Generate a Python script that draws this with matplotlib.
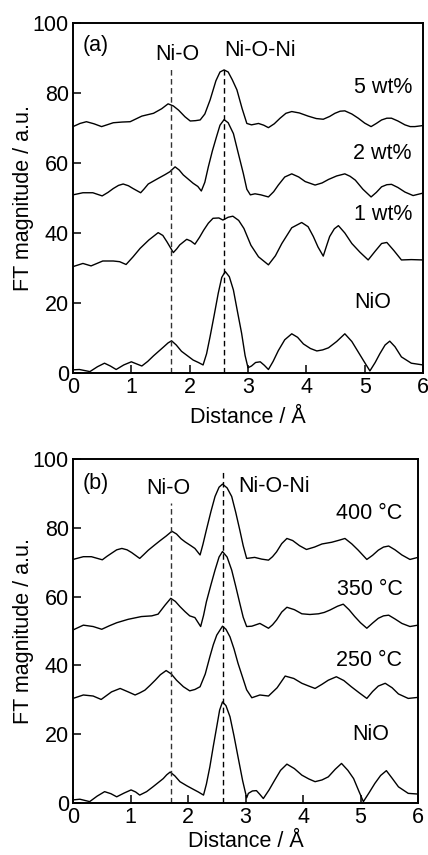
import numpy as np
import matplotlib
matplotlib.use("Agg")
import matplotlib.pyplot as plt

plt.rcParams['font.family'] = ['Liberation Sans', 'DejaVu Sans']

# ---- panel (a): Ni loading ----
a_5wt_x = [0, 0.12, 0.23, 0.36, 0.49, 0.60, 0.69, 0.84, 0.98, 1.08, 1.18, 1.38, 1.52, 1.63, 1.72,
           1.81, 1.92, 2.01, 2.10, 2.18, 2.26, 2.35, 2.45, 2.52, 2.59, 2.66, 2.73, 2.81, 2.90, 2.98,
           3.06, 3.18, 3.27, 3.35, 3.45, 3.55, 3.65, 3.75, 3.88, 4.03, 4.17, 4.29, 4.40, 4.49, 4.58,
           4.66, 4.78, 4.89, 5.00, 5.11, 5.20, 5.29, 5.38, 5.46, 5.57, 5.69, 5.78, 5.86, 6.0]
a_5wt_y = [70.4, 71.3, 71.8, 71.2, 70.4, 71.0, 71.5, 71.7, 71.8, 72.6, 73.4, 74.2, 75.5, 76.9, 76.3,
           75.1, 73.2, 72.0, 72.1, 72.3, 74.0, 78.0, 83.5, 86.0, 86.6, 86.0, 83.8, 80.9, 75.5, 71.3,
           70.9, 71.3, 70.8, 70.1, 71.2, 72.8, 74.2, 74.7, 74.3, 73.4, 72.7, 72.5, 73.3, 74.2, 74.8,
           74.9, 74.0, 72.8, 71.4, 70.4, 71.3, 72.3, 72.8, 72.8, 72.0, 70.9, 70.4, 70.4, 70.7]

a_2wt_x = [0, 0.17, 0.34, 0.50, 0.60, 0.69, 0.78, 0.86, 0.95, 1.03, 1.16, 1.22, 1.29, 1.46, 1.58,
           1.66, 1.75, 1.82, 1.89, 2.06, 2.14, 2.20, 2.26, 2.32, 2.39, 2.46, 2.52, 2.59, 2.66, 2.75,
           2.83, 2.92, 2.98, 3.04, 3.12, 3.22, 3.35, 3.44, 3.52, 3.63, 3.75, 3.87, 3.98, 4.15, 4.27,
           4.38, 4.52, 4.66, 4.75, 4.84, 4.97, 5.11, 5.20, 5.29, 5.38, 5.46, 5.57, 5.69, 5.83, 6.0]
a_2wt_y = [50.9, 51.5, 51.5, 50.6, 51.6, 52.7, 53.6, 54.0, 53.5, 52.7, 51.5, 52.6, 54.0, 55.6, 56.7,
           57.5, 58.9, 58.0, 56.6, 54.2, 53.3, 52.0, 54.5, 58.9, 63.5, 67.5, 70.8, 72.4, 71.5, 68.4,
           63.0, 57.0, 52.5, 50.9, 51.2, 50.9, 50.3, 51.8, 53.7, 56.0, 56.9, 56.0, 54.7, 53.7, 54.3,
           55.3, 56.3, 56.9, 56.2, 55.1, 52.5, 50.3, 51.6, 53.2, 53.8, 53.9, 53.0, 51.7, 50.7, 51.4]

a_1wt_x = [0, 0.17, 0.31, 0.51, 0.69, 0.80, 0.91, 1.03, 1.15, 1.30, 1.46, 1.54, 1.61, 1.72, 1.78,
           1.83, 1.95, 2.02, 2.09, 2.17, 2.24, 2.32, 2.40, 2.50, 2.57, 2.66, 2.74, 2.84, 2.93, 3.05,
           3.18, 3.35, 3.47, 3.58, 3.75, 3.92, 4.03, 4.12, 4.20, 4.29, 4.35, 4.40, 4.48, 4.55, 4.66,
           4.78, 4.92, 5.06, 5.18, 5.29, 5.38, 5.50, 5.63, 5.80, 6.0]
a_1wt_y = [30.4, 31.3, 30.6, 32.0, 32.0, 31.8, 31.0, 33.2, 35.6, 38.0, 40.1, 39.3, 37.5, 34.4, 35.5,
           36.6, 38.2, 37.7, 36.8, 38.8, 40.8, 42.8, 44.2, 44.3, 43.7, 44.5, 44.8, 43.6, 41.3, 36.5,
           33.2, 30.9, 33.5, 37.0, 41.5, 43.0, 41.8, 39.0, 36.0, 33.4, 36.5, 39.0, 41.2, 42.1, 40.0,
           37.0, 34.5, 32.3, 34.8, 37.0, 37.3, 35.0, 32.3, 32.4, 32.3]

a_nio_x = [0, 0.11, 0.29, 0.42, 0.54, 0.64, 0.74, 0.87, 1.0, 1.09, 1.18, 1.28, 1.38, 1.55, 1.63,
           1.69, 1.77, 1.86, 2.06, 2.15, 2.23, 2.29, 2.35, 2.42, 2.49, 2.55, 2.61, 2.68, 2.75, 2.82,
           2.89, 2.95, 3.0, 3.06, 3.13, 3.21, 3.28, 3.35, 3.43, 3.52, 3.63, 3.75, 3.85, 3.95, 4.07,
           4.18, 4.28, 4.38, 4.52, 4.66, 4.78, 4.89, 5.00, 5.09, 5.18, 5.26, 5.35, 5.43, 5.52, 5.63,
           5.80, 6.0]
a_nio_y = [0.9, 1.0, 0.4, 1.8, 2.8, 2.0, 1.0, 2.3, 3.2, 2.6, 2.0, 3.3, 4.9, 7.4, 8.6,
           9.2, 8.0, 6.2, 3.7, 3.0, 2.3, 5.5, 10.4, 16.5, 22.8, 27.3, 29.0, 27.5, 23.7, 17.5,
           11.4, 5.0, 1.5, 2.0, 3.0, 3.2, 2.2, 1.0, 3.3, 6.4, 9.5, 11.2, 10.2, 8.3, 7.0,
           6.3, 6.6, 7.2, 9.0, 11.2, 9.0, 6.0, 3.0, 0.6, 3.0, 5.5, 8.0, 9.1, 7.5, 4.6,
           2.8, 2.3]

# ---- panel (b): calcination temperature ----
b_400_x = [0, 0.18, 0.32, 0.51, 0.59, 0.67, 0.76, 0.85, 0.94, 1.02, 1.16, 1.23, 1.31, 1.42, 1.51,
           1.62, 1.72, 1.80, 1.88, 1.95, 2.05, 2.12, 2.21, 2.26, 2.32, 2.40, 2.47, 2.54, 2.60, 2.68,
           2.76, 2.83, 2.90, 2.96, 3.02, 3.16, 3.28, 3.40, 3.47, 3.54, 3.63, 3.72, 3.82, 3.94, 4.06,
           4.20, 4.33, 4.50, 4.63, 4.73, 4.85, 4.96, 5.11, 5.21, 5.31, 5.40, 5.49, 5.60, 5.72, 5.86,
           6.0]
b_400_y = [70.8, 71.6, 71.6, 70.7, 71.7, 72.6, 73.6, 74.0, 73.6, 72.8, 71.1, 72.2, 73.5, 75.0, 76.2,
           77.6, 79.0, 78.2, 76.8, 75.9, 74.8, 74.0, 72.1, 75.2, 79.4, 84.8, 89.1, 91.8, 92.7, 91.6,
           89.1, 84.5, 79.4, 74.8, 71.1, 71.4, 70.9, 70.6, 71.6, 73.0, 75.4, 76.9, 76.3, 74.8, 73.7,
           74.4, 75.3, 75.8, 76.4, 76.9, 75.3, 73.5, 70.8, 72.0, 73.5, 74.4, 74.7, 73.6, 72.1, 70.8,
           71.4]

b_350_x = [0, 0.18, 0.35, 0.50, 0.63, 0.76, 0.96, 1.19, 1.37, 1.48, 1.54, 1.60, 1.70, 1.78, 1.86,
           1.95, 2.03, 2.12, 2.22, 2.27, 2.32, 2.40, 2.47, 2.54, 2.60, 2.68, 2.76, 2.83, 2.90, 2.96,
           3.02, 3.11, 3.25, 3.40, 3.47, 3.54, 3.63, 3.72, 3.85, 3.98, 4.12, 4.27, 4.37, 4.47, 4.60,
           4.70, 4.80, 4.90, 5.00, 5.11, 5.21, 5.31, 5.40, 5.49, 5.60, 5.72, 5.86, 6.0]
b_350_y = [50.3, 51.7, 51.3, 50.5, 51.5, 52.4, 53.4, 54.2, 54.4, 54.9, 56.2, 57.5, 59.5, 58.6, 57.1,
           55.6, 54.4, 53.9, 51.3, 54.5, 58.5, 63.5, 67.7, 71.5, 73.1, 71.5, 67.7, 63.0, 58.1, 54.0,
           51.3, 51.4, 52.2, 50.8, 51.8, 53.2, 55.5, 56.9, 56.2, 55.0, 54.8, 55.0, 55.4, 56.1, 57.2,
           57.8, 56.2, 54.2, 52.4, 50.8, 52.3, 53.7, 54.4, 54.6, 53.5, 52.2, 51.3, 51.7]

b_250_x = [0, 0.18, 0.35, 0.49, 0.58, 0.67, 0.82, 0.96, 1.08, 1.16, 1.25, 1.34, 1.43, 1.52, 1.62,
           1.71, 1.80, 1.92, 2.03, 2.12, 2.21, 2.30, 2.38, 2.44, 2.50, 2.60, 2.66, 2.73, 2.80, 2.87,
           2.95, 3.02, 3.11, 3.25, 3.40, 3.55, 3.69, 3.84, 3.98, 4.10, 4.21, 4.33, 4.44, 4.58, 4.71,
           4.84, 4.98, 5.11, 5.21, 5.31, 5.43, 5.55, 5.66, 5.83, 6.0]
b_250_y = [30.4, 31.4, 31.1, 30.1, 31.2, 32.3, 33.3, 32.3, 31.4, 32.0, 32.8, 34.2, 35.7, 37.3, 38.5,
           37.5, 35.7, 33.8, 32.6, 33.0, 33.8, 37.5, 42.5, 46.0, 48.8, 51.4, 50.5, 48.3, 44.8, 40.6,
           36.5, 32.9, 30.6, 31.4, 31.1, 33.5, 36.9, 36.2, 34.8, 34.0, 33.3, 34.5, 35.7, 36.7, 35.6,
           33.8, 32.0, 30.4, 32.4, 34.0, 34.8, 33.5, 31.7, 30.4, 30.7]

b_nio_x = [0, 0.12, 0.29, 0.42, 0.55, 0.66, 0.76, 0.89, 1.01, 1.09, 1.16, 1.28, 1.39, 1.57, 1.63,
           1.69, 1.77, 1.86, 1.98, 2.09, 2.18, 2.27, 2.32, 2.38, 2.44, 2.50, 2.55, 2.60, 2.66, 2.73,
           2.80, 2.87, 2.95, 3.02, 3.05, 3.12, 3.19, 3.25, 3.31, 3.41, 3.51, 3.61, 3.72, 3.85, 3.98,
           4.10, 4.21, 4.33, 4.44, 4.56, 4.67, 4.78, 4.88, 4.97, 5.05, 5.15, 5.25, 5.35, 5.45, 5.55,
           5.66, 5.83, 6.0]
b_nio_y = [0.9, 1.1, 0.4, 2.0, 3.3, 2.7, 1.8, 2.9, 3.8, 3.2, 2.3, 3.3, 4.7, 7.1, 8.2,
           9.0, 7.9, 6.2, 5.0, 4.0, 3.2, 2.3, 5.5, 10.5, 16.5, 22.2, 27.0, 29.4, 28.3, 25.1,
           19.5, 13.4, 6.5, 1.5, 2.8, 3.5, 3.6, 2.5, 1.3, 3.8, 6.7, 9.5, 11.3, 10.0, 8.1,
           7.0, 6.2, 6.7, 7.6, 9.8, 11.5, 9.5, 7.1, 3.5, 0.4, 3.0, 5.7, 8.0, 9.4, 7.2,
           4.7, 2.8, 2.6]

fig = plt.figure(figsize=(4.28, 8.55), dpi=100)
ax1 = fig.add_axes([73 / 428, 1 - 373 / 855, 350 / 428, 350 / 855])
ax2 = fig.add_axes([73 / 428, 1 - 803 / 855, 345 / 428, 344 / 855])

fs = 15.5
dash = (0, (4, 2.5))


def style(ax, ylab_x, xpad):
    ax.set_xlim(0, 6)
    ax.set_ylim(0, 100)
    ax.set_xticks(range(0, 7))
    ax.set_yticks(range(0, 101, 20))
    ax.tick_params(direction='in', length=6, width=1.1, labelsize=fs, pad=3)
    for s in ax.spines.values():
        s.set_linewidth(1.4)
    ax.set_xlabel('Distance / Å', fontsize=fs, labelpad=xpad)
    ax.set_ylabel('FT magnitude / a.u.', fontsize=fs)
    ax.yaxis.set_label_coords(ylab_x, 0.5)


# panel (a)
for xs, ys in [(a_5wt_x, a_5wt_y), (a_2wt_x, a_2wt_y), (a_1wt_x, a_1wt_y), (a_nio_x, a_nio_y)]:
    ax1.plot(xs, ys, color='black', lw=1.0)
ax1.plot([1.68, 1.68], [0, 87.4], color='#333333', lw=1.0, ls=dash)
ax1.plot([2.58, 2.58], [0, 87.0], color='black', lw=1.0, ls=dash)
ax1.text(0.17, 93.6, '(a)', fontsize=fs, va='center', ha='left')
ax1.text(1.78, 91.1, 'Ni-O', fontsize=fs, va='center', ha='center')
ax1.text(2.59, 92.1, 'Ni-O-Ni', fontsize=fs, va='center', ha='left')
ax1.text(5.81, 81.6, '5 wt%', fontsize=fs, va='center', ha='right')
ax1.text(5.81, 62.6, '2 wt%', fontsize=fs, va='center', ha='right')
ax1.text(5.81, 45.4, '1 wt%', fontsize=fs, va='center', ha='right')
ax1.text(5.46, 20.1, 'NiO', fontsize=fs, va='center', ha='right')
style(ax1, -0.112, 6)

# panel (b)
for xs, ys in [(b_400_x, b_400_y), (b_350_x, b_350_y), (b_250_x, b_250_y), (b_nio_x, b_nio_y)]:
    ax2.plot(xs, ys, color='black', lw=1.0)
ax2.plot([1.70, 1.70], [0, 87.2], color='#333333', lw=1.0, ls=dash)
ax2.plot([2.61, 2.61], [0, 96.3], color='black', lw=1.0, ls=dash)
ax2.text(0.17, 93.0, '(b)', fontsize=fs, va='center', ha='left')
ax2.text(1.66, 91.3, 'Ni-O', fontsize=fs, va='center', ha='center')
ax2.text(2.875, 92.0, 'Ni-O-Ni', fontsize=fs, va='center', ha='left')
ax2.text(5.73, 84.2, '400 °C', fontsize=fs, va='center', ha='right')
ax2.text(5.73, 62.2, '350 °C', fontsize=fs, va='center', ha='right')
ax2.text(5.73, 41.3, '250 °C', fontsize=fs, va='center', ha='right')
ax2.text(5.49, 20.0, 'NiO', fontsize=fs, va='center', ha='right')
style(ax2, -0.113, 2)

fig.savefig('out.png', dpi=100)
